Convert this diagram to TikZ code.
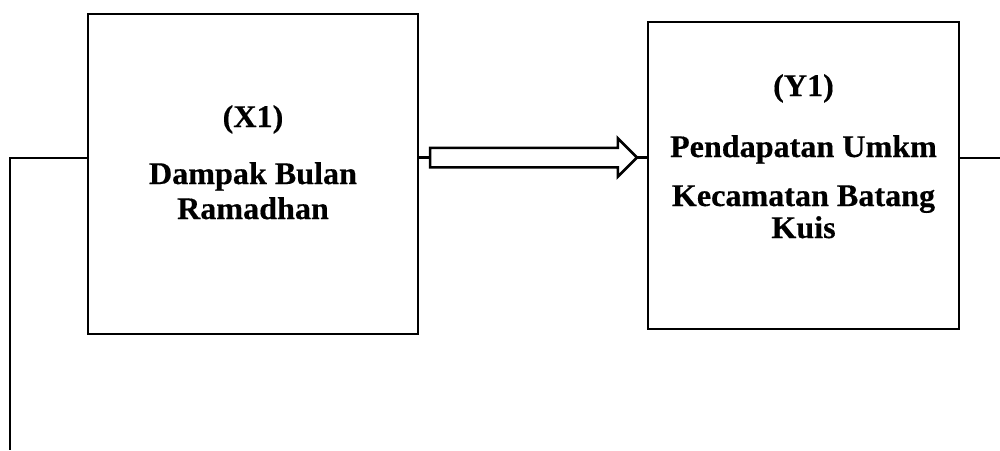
\documentclass[tikz,border=0pt]{standalone}
\usepackage{fontspec}
\setmainfont{Liberation Serif}
\newfontfamily\lbl[FakeStretch=1.02,FakeBold=0.4]{Liberation Serif}
\usetikzlibrary{shapes.arrows}
\tikzset{
  varbox/.style={draw, line width=2.8pt, rectangle, inner sep=0pt, outer sep=0pt},
  lbltext/.style={anchor=base, inner sep=0pt, font=\lbl\bfseries\fontsize{31.5}{36}\selectfont},
  conn/.style={line width=2.6pt},
  blockarrow/.style={draw, single arrow, line width=2.5pt, inner xsep=0pt, inner ysep=8.5pt,
    single arrow head extend=9.5pt, single arrow head indent=0pt, minimum height=207pt,
    minimum width=0pt, outer sep=0pt}
}
\begin{document}
\begin{tikzpicture}[x=1pt,y=-1pt]
\useasboundingbox (0,0) rectangle (1000,450);
\node[varbox, minimum width=330pt, minimum height=320pt] (X) at (253,174) {};
\node[varbox, minimum width=311pt, minimum height=307pt] (Y) at (803.5,175.5) {};
\node[lbltext] (xt1) at (253,127) {(X1)};
\node[lbltext] (xt2) at (253,184) {Dampak Bulan};
\node[lbltext] (xt3) at (253,219) {Ramadhan};
\node[lbltext] (yt1) at (803.5,96) {(Y1)};
\node[lbltext] (yt2) at (803.5,157) {Pendapatan Umkm};
\node[lbltext] (yt3) at (803.5,206) {Kecamatan Batang};
\node[lbltext] (yt4) at (803.5,238) {Kuis};
\node[blockarrow, anchor=tail] (arr) at (430,157.5) {};
\coordinate (lc) at (10,158);
\coordinate (lb) at (10,450);
\coordinate (rc) at (1000,158);
\draw[conn] (X.west |- lc) -- (lc) -- (lb);
\draw[conn] (Y.east |- rc) -- (rc);
\draw[conn] (X.east |- arr.tail) -- (arr.tail);
\draw[conn] (arr.tip) -- (Y.west |- arr.tip);
\end{tikzpicture}
\end{document}
